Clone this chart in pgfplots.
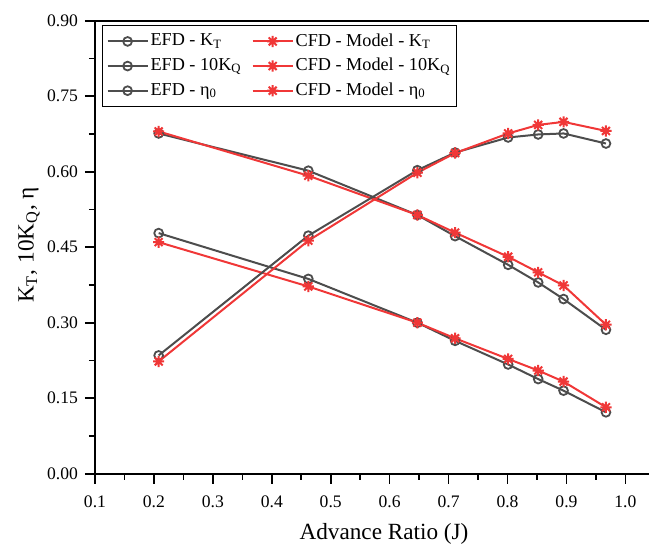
\documentclass[border=0pt]{standalone}
\usepackage{pgfplots}
\pgfplotsset{compat=1.18}
\usepackage{fontspec}
\setmainfont{Liberation Serif}
\definecolor{efd}{RGB}{77,77,77}
\definecolor{cfd}{RGB}{240,55,55}
\pgfdeclareplotmark{star8}{%
  \pgfpathmoveto{\pgfqpoint{0pt}{\pgfplotmarksize}}\pgfpathlineto{\pgfqpoint{0pt}{-\pgfplotmarksize}}%
  \pgfpathmoveto{\pgfqpoint{\pgfplotmarksize}{0pt}}\pgfpathlineto{\pgfqpoint{-\pgfplotmarksize}{0pt}}%
  \pgfpathmoveto{\pgfqpoint{.7071\pgfplotmarksize}{.7071\pgfplotmarksize}}\pgfpathlineto{\pgfqpoint{-.7071\pgfplotmarksize}{-.7071\pgfplotmarksize}}%
  \pgfpathmoveto{\pgfqpoint{-.7071\pgfplotmarksize}{.7071\pgfplotmarksize}}\pgfpathlineto{\pgfqpoint{.7071\pgfplotmarksize}{-.7071\pgfplotmarksize}}%
  \pgfusepathqstroke}
\pgfplotstableread{
J     efdkt cfdkt efdkq cfdkq efdeta cfdeta
0.208 0.676 0.680 0.478 0.460 0.235 0.223
0.462 0.602 0.592 0.387 0.372 0.473 0.463
0.647 0.514 0.514 0.300 0.300 0.603 0.598
0.711 0.472 0.479 0.264 0.269 0.638 0.637
0.801 0.415 0.431 0.217 0.228 0.668 0.676
0.852 0.380 0.400 0.188 0.205 0.674 0.693
0.895 0.347 0.374 0.165 0.183 0.676 0.699
0.967 0.286 0.296 0.122 0.132 0.656 0.681
}\data
\begin{document}
\begin{tikzpicture}
\useasboundingbox (-47.5pt,-36.65pt) rectangle (277pt,236.85pt);
\begin{axis}[
  scale only axis, width=277pt, height=226.5pt,
  xmin=0.1, xmax=1.04, ymin=0, ymax=0.9,
  axis x line=box, axis y line=left,
  axis line style={-, line width=0.8pt, black},
  xtick={0.1,0.2,0.3,0.4,0.5,0.6,0.7,0.8,0.9,1.0},
  xticklabels={0.1,0.2,0.3,0.4,0.5,0.6,0.7,0.8,0.9,1.0},
  ytick={0,0.15,0.3,0.45,0.6,0.75,0.9},
  yticklabels={0.00,0.15,0.30,0.45,0.60,0.75,0.90},
  minor x tick num=1, minor y tick num=1,
  xtick pos=bottom, ytick pos=left,
  tick align=outside,
  major tick length=5pt, minor tick length=3pt,
  every tick/.style={black, line width=0.8pt},
  tick label style={font=\rmfamily\fontsize{8.8}{10}\selectfont},
  xticklabel style={yshift=-2.5pt},
  xlabel={Advance Ratio (J)},
  ylabel={K\textsubscript{T}, 10K\textsubscript{Q}, η},
  label style={font=\fontsize{11.6}{14}\selectfont},
  xlabel style={at={(axis description cs:0.5217,0)}, anchor=base, yshift=-33pt},
  ylabel style={at={(axis description cs:-0.1191,0.505)}, anchor=center},
  legend columns=2,
  legend style={at={(axis description cs:0.0126,0.9905)}, anchor=north west,
    font=\fontsize{9.1}{10}\selectfont, draw=black, line width=0.6pt,
    inner xsep=2pt, inner ysep=2.5pt, row sep=1.5pt,
    nodes={inner xsep=1pt, inner ysep=1.5pt},
    /tikz/every even column/.style={column sep=4pt}},
  legend cell align=left,
  legend image code/.code={\draw[mark repeat=2,mark phase=2] plot coordinates {(0pt,0pt) (10pt,0pt) (20pt,0pt)};},
  clip=false,
]
\addplot[efd, line width=1pt, mark=o, mark size=2.2pt, mark options={fill=white, line width=0.9pt}] table[x=J,y=efdkt]{\data};
\addlegendentry{EFD - K\textsubscript{T}}
\addplot[cfd, line width=1pt, mark=star8, mark size=2.8pt, mark options={line width=1pt}] table[x=J,y=cfdkt]{\data};
\addlegendentry{CFD - Model - K\textsubscript{T}}
\addplot[efd, line width=1pt, mark=o, mark size=2.2pt, mark options={fill=white, line width=0.9pt}] table[x=J,y=efdkq]{\data};
\addlegendentry{EFD - 10K\textsubscript{Q}}
\addplot[cfd, line width=1pt, mark=star8, mark size=2.8pt, mark options={line width=1pt}] table[x=J,y=cfdkq]{\data};
\addlegendentry{CFD - Model - 10K\textsubscript{Q}}
\addplot[efd, line width=1pt, mark=o, mark size=2.2pt, mark options={fill=white, line width=0.9pt}] table[x=J,y=efdeta]{\data};
\addlegendentry{EFD - η\textsubscript{0}}
\addplot[cfd, line width=1pt, mark=star8, mark size=2.8pt, mark options={line width=1pt}] table[x=J,y=cfdeta]{\data};
\addlegendentry{CFD - Model - η\textsubscript{0}}
\end{axis}
\end{tikzpicture}
\end{document}
